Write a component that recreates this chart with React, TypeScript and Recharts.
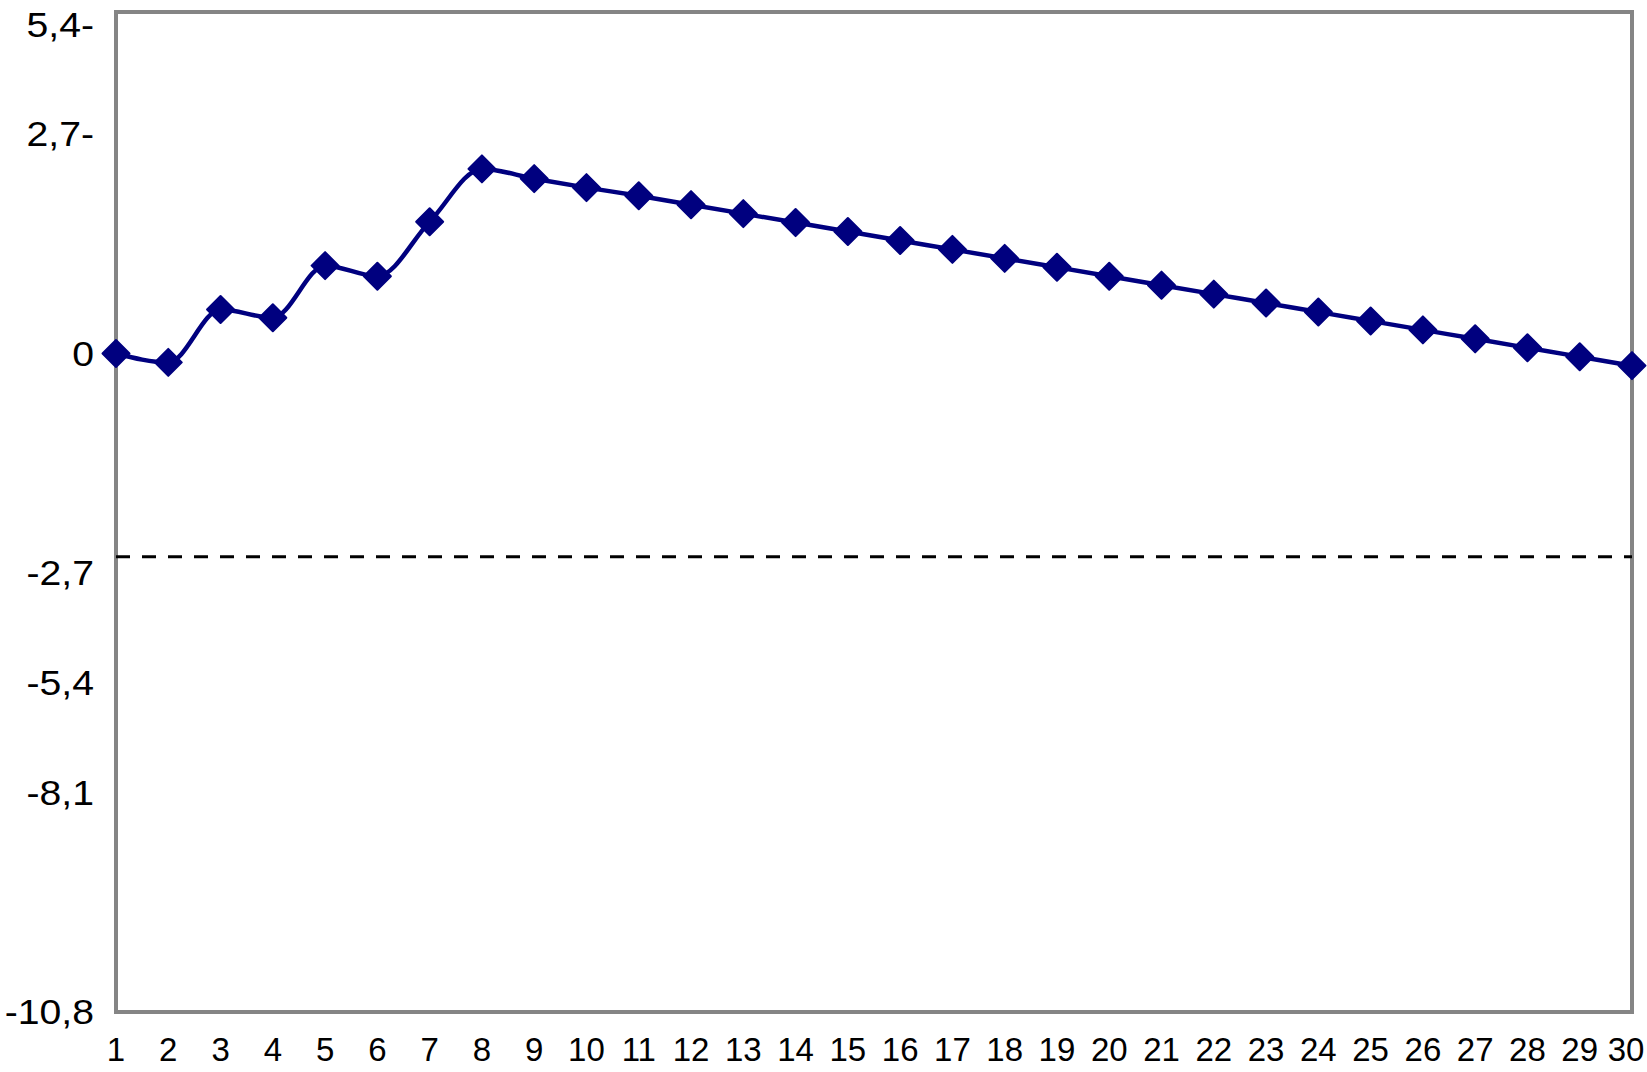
import { LineChart, Line, XAxis, YAxis, ReferenceLine, ReferenceArea } from 'recharts'

const DAYS = [1, 2, 3, 4, 5, 6, 7, 8, 9, 10, 11, 12, 13, 14, 15, 16, 17, 18, 19, 20, 21, 22, 23, 24, 25, 26, 27, 28, 29, 30]

const VALUES = [
  0, -0.11, 0.54, 0.44, 1.08, 0.95, 1.62, 2.27, 2.15, 2.04,
  1.94, 1.83, 1.72, 1.61, 1.5, 1.39, 1.28, 1.17, 1.06, 0.95,
  0.84, 0.73, 0.62, 0.51, 0.4, 0.29, 0.18, 0.07, -0.04, -0.15,
]

// tick values on the axis and the text printed next to them (as in the original figure)
const Y_TICKS = [4.05, 2.7, 0, -2.7, -4.05, -5.4, -8.1]
const Y_TICK_LABELS = ['5,4-', '2,7-', '0', '-2,7', '-5,4', '-8,1', '-10,8']
const Y_DOMAIN = [-8.1, 4.2]
const THRESHOLD = -2.5

const NAVY = '#00007f'
const FRAME = '#858585'
const FONT = 'Arial, "Liberation Sans", Helvetica, sans-serif'

const data = DAYS.map((day, i) => ({ day, value: VALUES[i] }))

const Diamond = (props: any) => {
  const { cx, cy, index } = props
  if (cx == null || cy == null) return null
  const r = 13.5
  return (
    <path
      key={`d-${index}`}
      d={`M${cx},${cy - r}L${cx + r},${cy}L${cx},${cy + r}L${cx - r},${cy}Z`}
      fill={NAVY}
      stroke={NAVY}
      strokeWidth={2}
      strokeLinejoin="round"
    />
  )
}

const YTick = (props: any) => {
  const { x, y, payload } = props
  const idx = Y_TICKS.indexOf(payload.value)
  const label = idx >= 0 ? Y_TICK_LABELS[idx] : String(payload.value)
  return (
    <g transform={`translate(${x},${y}) scale(1.12,1)`}>
      <text textAnchor="end" dy="0.355em" fontSize={35} fontFamily={FONT} fill="#000">
        {label}
      </text>
    </g>
  )
}

const XTick = (props: any) => {
  const { x, y, payload, index } = props
  // keep the last label inside the page
  const shift = index === DAYS.length - 1 ? -6 : 0
  return (
    <g transform={`translate(${x + shift},${y})`}>
      <text textAnchor="middle" dy="0.71em" fontSize={33} fontFamily={FONT} fill="#000">
        {payload.value}
      </text>
    </g>
  )
}

export default function App() {
  return (
    <div style={{ position: 'absolute', left: 0, top: 0, background: '#fff' }}>
      <LineChart
        width={1647}
        height={1072}
        data={data}
        margin={{ top: 12, right: 15, bottom: 10, left: 16 }}
      >
        <XAxis
          dataKey="day"
          type="category"
          height={50}
          axisLine={false}
          tickLine={false}
          tickSize={0}
          tickMargin={26}
          interval={0}
          tick={<XTick />}
        />
        <YAxis
          type="number"
          domain={Y_DOMAIN}
          ticks={Y_TICKS}
          width={100}
          axisLine={false}
          tickLine={false}
          tickSize={0}
          tickMargin={22}
          interval={0}
          tick={<YTick />}
        />
        <ReferenceArea
          x1={DAYS[0]}
          x2={DAYS[DAYS.length - 1]}
          y1={Y_DOMAIN[0]}
          y2={Y_DOMAIN[1]}
          fill="none"
          fillOpacity={0}
          stroke={FRAME}
          strokeWidth={4}
          strokeOpacity={1}
        />
        <ReferenceLine y={THRESHOLD} stroke="#000" strokeWidth={3} strokeDasharray="14 12" />
        <Line
          type="monotone"
          dataKey="value"
          stroke={NAVY}
          strokeWidth={4.5}
          dot={(p: any) => <Diamond {...p} />}
          activeDot={false}
          isAnimationActive={false}
        />
      </LineChart>
    </div>
  )
}
